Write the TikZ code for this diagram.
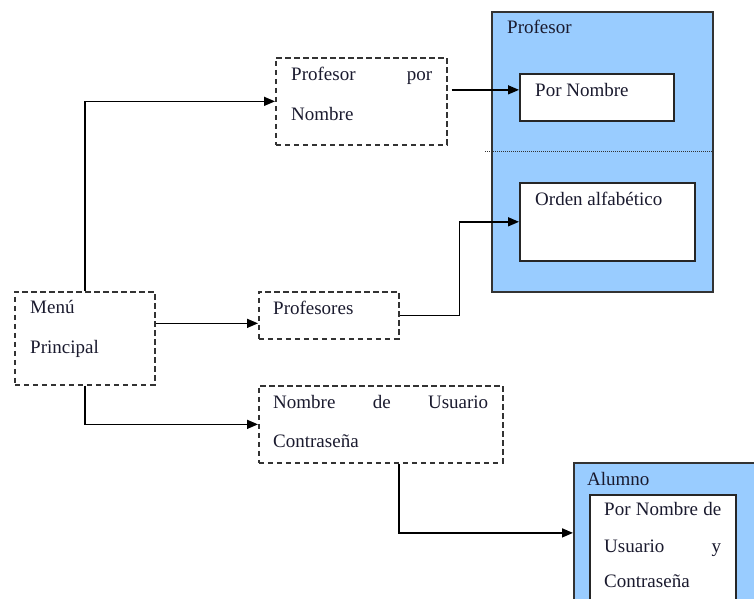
\documentclass[tikz,border=0pt]{standalone}
\usepackage{fontspec}
\setmainfont{Liberation Serif}
\usetikzlibrary{arrows.meta,calc}
\definecolor{panelblue}{HTML}{99CCFF}
\definecolor{edgegray}{HTML}{333333}
\definecolor{inktext}{HTML}{1A1A2E}
\begin{document}
\begin{tikzpicture}[x=1pt,y=-1pt,
  every node/.style={font=\fontsize{19}{22}\selectfont, text=inktext},
  dbox/.style={draw=edgegray, line width=1.7pt, dash pattern=on 5.5pt off 3.5pt,
    inner sep=0pt, anchor=north west},
  panel/.style={draw=edgegray, line width=1.8pt, fill=panelblue,
    inner sep=0pt, anchor=north west},
  wbox/.style={draw=black!85, line width=1.6pt, fill=white,
    inner sep=0pt, anchor=north west},
  lbl/.style={anchor=base west, inner sep=0pt},
  arr/.style={draw=black, line width=1.5pt,
    -{Triangle[length=11pt,width=9pt]}},
  conn/.style={draw=black, line width=1.5pt}]
\useasboundingbox (0,0) rectangle (754,598);
\clip (0,0) rectangle (754,598);

% Profesor panel
\node[panel, minimum width=221pt, minimum height=280pt] (pprof) at (491,11) {};
\node[lbl] (tprof) at (507,33) {Profesor};
\draw[edgegray, line width=1pt, dash pattern=on 1pt off 1pt] (485,151) -- (712,151);
\node[wbox, minimum width=154pt, minimum height=47pt] (pn) at (519,73) {};
\node[lbl] (tpn) at (535,96) {Por Nombre};
\node[wbox, minimum width=175pt, minimum height=78pt] (oa) at (519,182) {};
\node[lbl] (toa) at (535,205) {Orden alfabético};

% Alumno panel
\node[panel, minimum width=230pt, minimum height=140pt] (palu) at (573,462) {};
\node[lbl] (talu) at (587,485) {Alumno};
\node[wbox, minimum width=146pt, minimum height=130pt] (pnu) at (589,494) {};
\node[lbl] (t1) at (604,515) {\makebox[117pt][s]{Por Nombre de}};
\node[lbl] (t2) at (604,552) {\makebox[117pt][s]{Usuario\hfill y}};
\node[lbl] (t3) at (604,587) {Contraseña};

% Menu boxes
\node[dbox, minimum width=140pt, minimum height=93pt] (menu) at (14,291) {};
\node[lbl] (tm1) at (30,313) {Menú};
\node[lbl] (tm2) at (30,353) {Principal};

\node[dbox, minimum width=171pt, minimum height=87pt] (ppn) at (275,57) {};
\node[lbl] (tppn1) at (291,80) {\makebox[141pt][s]{Profesor\hfill por}};
\node[lbl] (tppn2) at (291,120) {Nombre};

\node[dbox, minimum width=140pt, minimum height=47pt] (prf) at (258,291) {};
\node[lbl] (tprf) at (273,314) {Profesores};

\node[dbox, minimum width=244pt, minimum height=77pt] (nu) at (258,385) {};
\node[lbl] (tnu1) at (273,408) {\makebox[215pt][s]{Nombre de Usuario}};
\node[lbl] (tnu2) at (273,447) {Contraseña};

% Connectors
\draw[arr] (menu.north) |- (ppn.west);
\coordinate (pin) at ([yshift=-8pt]prf.west);
\draw[arr] (pin -| menu.east) -- (pin);
\draw[arr] (menu.south) |- (nu.west);
\coordinate (pout) at ([xshift=4pt,yshift=11.5pt]ppn.east);
\draw[arr] (pout) -- (pout -| pn.west);
\draw[arr] (prf.east) -- ++(60,0) |- (oa.west);
\draw[arr] ([xshift=18pt]nu.south) |- (palu.west);
\end{tikzpicture}
\end{document}
